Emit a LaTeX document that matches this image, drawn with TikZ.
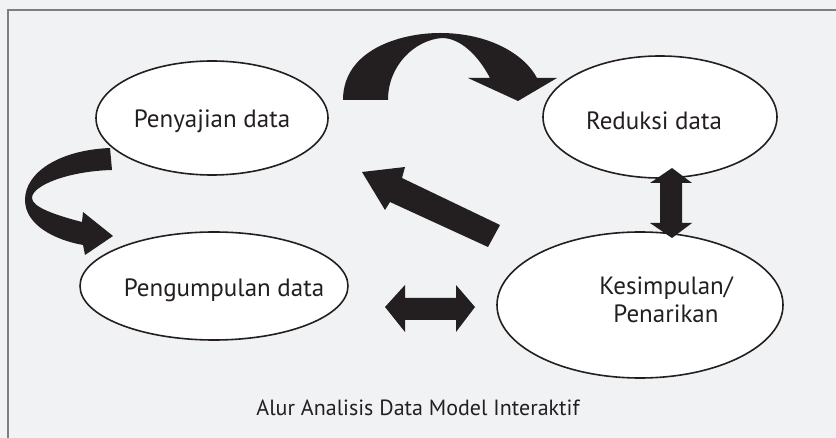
\documentclass[tikz,border=0pt]{standalone}
\usepackage{fontspec}
\setmainfont{PT Sans}
\usetikzlibrary{shapes.geometric}
\definecolor{bgc}{HTML}{F1F2F4}
\definecolor{ink}{HTML}{231F20}
\definecolor{framec}{HTML}{7F7F7F}
\tikzset{
  oval/.style={ellipse, draw=ink, line width=1.6pt, fill=white, inner sep=0pt},
  lbl/.style={text=ink, font=\fontsize{25}{28}\selectfont, align=center, inner sep=0pt},
  blob/.style={fill=ink, draw=none}
}
\begin{document}
\begin{tikzpicture}[x=1pt,y=-1pt]
\useasboundingbox (0,0) rectangle (836,438);
\fill[bgc] (0,0) rectangle (836,438);
\draw[framec, line width=2pt] (8,438) -- (8,10.5) -- (836,10.5);

\node[oval, minimum width=232pt, minimum height=114pt] (pen) at (212,118) {};
\node[oval, minimum width=234pt, minimum height=122pt] (red) at (660,117) {};
\node[oval, minimum width=268pt, minimum height=108pt] (pgm) at (214,286) {};
\node[oval, minimum width=286pt, minimum height=146pt] (kes) at (640,305) {};

\node[lbl] (pent) at (212,121) {Penyajian data};
\node[lbl] (redt) at (654,121) {Reduksi data};
\node[lbl] (pgmt) at (224,290) {Pengumpulan data};
\node[lbl] (kest) at (666,300) {Kesimpulan/\\Penarikan};

\node[text=ink, font=\fontsize{22}{24}\selectfont] (cap) at (418,408) {Alur Analisis Data Model Interaktif};

% top curved arrow
\fill[blob] (343,100) .. controls (343,50) and (400,33) .. (440,33)
  .. controls (490,33) and (525,55) .. (537,78) -- (557,78) -- (518,101) -- (468,78) -- (490,78)
  .. controls (478,55) and (460,38) .. (442,38)
  .. controls (415,40) and (388,65) .. (388,100) -- cycle;

% left curved arrow
\fill[blob] (110,148) .. controls (60,150) and (25,172) .. (25,200)
  .. controls (25,225) and (55,240) .. (83,245) -- (85,255) -- (113,236) -- (83,212) -- (82,222)
  .. controls (55,215) and (32,207) .. (32,198)
  .. controls (32,185) and (70,171) .. (112,170) -- cycle;

% diagonal arrow
\fill[blob] (500,225) -- (402,178) -- (405,167) -- (362,172) -- (385,210) -- (390,202) -- (488,247) -- cycle;

% horizontal double arrow
\fill[blob] (385,307) -- (405,285) -- (405,298) -- (456,298) -- (456,285) -- (475,307)
  -- (456,332) -- (456,320) -- (405,320) -- (405,332) -- cycle;

% vertical double arrow
\fill[blob] (672,168) -- (692,183) -- (682,183) -- (682,223) -- (692,223) -- (672,238)
  -- (650,223) -- (660,223) -- (660,183) -- (650,183) -- cycle;
\end{tikzpicture}
\end{document}
